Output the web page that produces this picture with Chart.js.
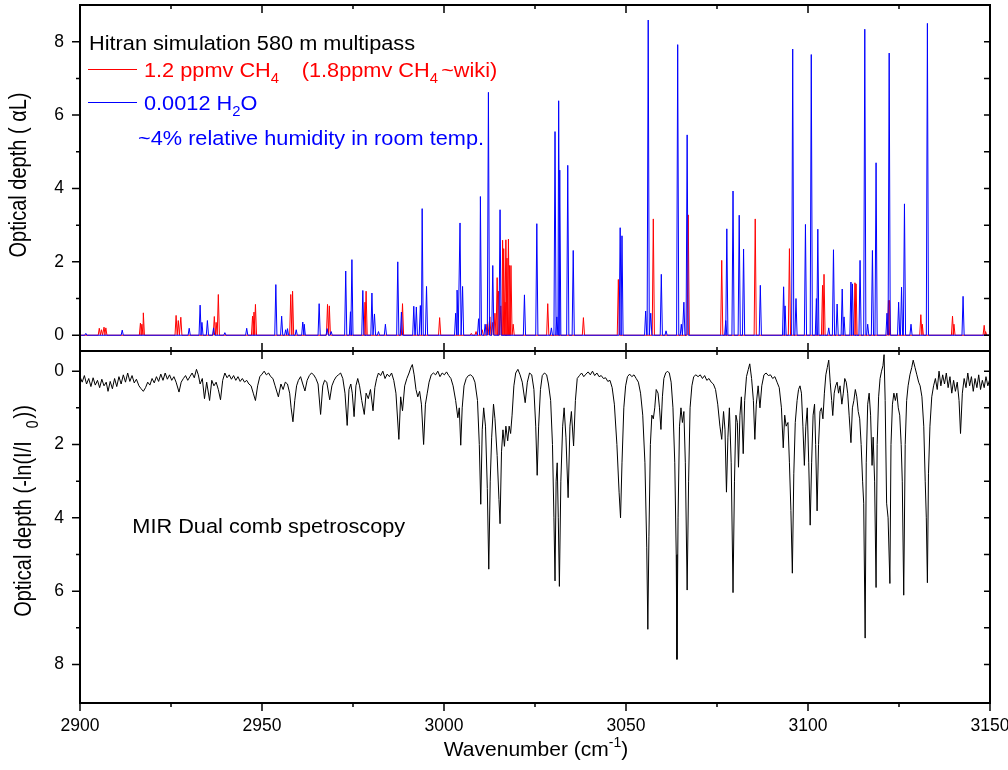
<!DOCTYPE html>
<html>
<head>
<meta charset="utf-8">
<script src="https://cdn.jsdelivr.net/npm/chart.js@4.4.1/dist/chart.umd.min.js"></script>
<style>
  html, body { margin: 0; padding: 0; background: #fff; overflow: hidden; }
  #wrap { position: relative; width: 1008px; height: 770px; overflow: hidden; background: #fff; }
  #topCanvas { position: absolute; left: 0; top: -20px; }
  #botCanvas { position: absolute; left: 0; top: 331px; }
</style>
</head>
<body>
<div id="wrap">
  <canvas id="topCanvas" width="1040" height="391"></canvas>
  <canvas id="botCanvas" width="1040" height="439"></canvas>
</div>
<script>
// axis ticks
const xTickValues = [2900, 2950, 3000, 3050, 3100, 3150];
const yTickValues = [0, 2, 4, 6, 8];

// HITRAN simulated lines, [wavenumber, optical depth]
const h2oLines = [
  [2901.6, 0.05], [2911.6, 0.14], [2930.0, 0.19], [2933.0, 0.82], [2933.5, 0.35],
  [2935.0, 0.40], [2936.7, 0.20], [2939.8, 0.07], [2945.8, 0.19], [2953.8, 1.38],
  [2955.4, 0.52], [2956.5, 0.15], [2957.0, 0.18], [2959.4, 0.15], [2961.2, 0.36],
  [2961.6, 0.30], [2965.7, 0.86], [2967.9, 0.18], [2969.0, 0.10], [2973.0, 1.75],
  [2974.3, 0.64], [2974.7, 2.06], [2977.7, 1.22], [2980.2, 1.15], [2980.9, 0.58],
  [2982.0, 0.10], [2983.9, 0.30], [2987.3, 2.00], [2988.3, 0.63], [2991.7, 0.79],
  [2992.4, 0.77], [2993.5, 0.81], [2994.0, 3.45], [2995.2, 1.33], [3003.2, 0.60],
  [3003.6, 1.23], [3004.4, 3.06], [3005.1, 1.33], [3009.5, 0.45], [3010.0, 3.78],
  [3011.3, 0.30], [3012.2, 6.62], [3013.4, 1.90], [3015.4, 3.42], [3022.1, 1.10],
  [3025.5, 3.04], [3029.5, 0.20], [3030.5, 5.55], [3031.0, 0.50], [3031.5, 6.39],
  [3031.8, 4.50], [3034.0, 4.63], [3035.5, 2.31], [3048.4, 2.93], [3048.9, 2.71],
  [3055.4, 0.66], [3056.1, 8.59], [3056.8, 0.60], [3059.7, 1.66], [3061.0, 0.12],
  [3064.2, 7.92], [3065.2, 0.30], [3065.9, 0.90], [3066.8, 5.46], [3077.4, 0.40],
  [3077.7, 2.90], [3079.4, 3.93], [3081.1, 3.27], [3082.3, 2.35], [3086.9, 1.36],
  [3093.3, 1.32], [3093.7, 0.80], [3095.8, 7.80], [3096.7, 1.00], [3099.3, 3.02],
  [3100.9, 7.65], [3102.3, 1.00], [3102.7, 2.89], [3105.7, 0.20], [3107.0, 2.33],
  [3108.0, 0.85], [3109.4, 1.26], [3109.9, 0.50], [3111.8, 1.45], [3112.2, 1.40],
  [3114.3, 2.04], [3115.6, 8.34], [3116.4, 0.30], [3117.7, 2.31], [3118.7, 4.70],
  [3121.7, 0.60], [3122.3, 7.69], [3124.9, 0.90], [3125.7, 1.31], [3126.5, 3.58],
  [3128.3, 0.30], [3132.8, 8.50], [3142.6, 1.06]
];

const ch4Lines = [
  [2905.3, 0.19], [2905.9, 0.15], [2906.6, 0.22], [2907.1, 0.20], [2916.6, 0.33],
  [2917.0, 0.30], [2917.4, 0.61], [2926.4, 0.54], [2927.0, 0.40], [2927.7, 0.49],
  [2936.9, 0.51], [2937.4, 0.35], [2938.0, 1.11], [2947.4, 0.52], [2947.8, 0.63],
  [2948.2, 0.84], [2957.9, 1.11], [2958.4, 1.20], [2968.0, 0.84], [2968.5, 0.80],
  [2978.3, 0.90], [2978.6, 1.20], [2988.6, 0.86], [2998.8, 0.48], [3007.5, 0.05],
  [3008.8, 0.10], [3010.5, 0.15], [3011.8, 0.30], [3012.6, 0.50], [3013.4, 0.35],
  [3014.0, 0.60], [3014.6, 1.57], [3015.0, 1.20], [3015.6, 0.80], [3016.1, 2.59],
  [3016.4, 2.36], [3016.8, 0.90], [3017.0, 2.60], [3017.3, 2.10], [3017.7, 2.62],
  [3018.0, 1.90], [3018.4, 1.90], [3019.0, 0.30], [3028.5, 0.86], [3038.3, 0.48],
  [3047.9, 1.52], [3057.5, 3.17], [3067.1, 3.28], [3076.3, 2.04], [3085.5, 3.17],
  [3094.9, 2.36], [3104.0, 1.36], [3104.4, 1.66], [3112.9, 1.43], [3113.2, 1.40],
  [3122.1, 0.95], [3122.4, 0.95], [3131.0, 0.56], [3131.4, 0.30], [3139.7, 0.52],
  [3140.1, 0.30], [3148.4, 0.27], [3148.8, 0.10]
];

const measured = [
  [2900.0, 0.15], [2900.6, 0.30], [2901.2, 0.12], [2901.8, 0.35], [2902.4, 0.20],
  [2903.0, 0.42], [2903.6, 0.18], [2904.2, 0.38], [2904.8, 0.25], [2905.4, 0.45],
  [2906.0, 0.22], [2906.6, 0.40], [2907.2, 0.30], [2907.7, 0.55], [2908.3, 0.28],
  [2908.9, 0.48], [2909.5, 0.20], [2910.1, 0.42], [2910.7, 0.15], [2911.3, 0.35],
  [2911.9, 0.10], [2912.5, 0.30], [2913.1, 0.05], [2913.7, 0.28], [2914.3, 0.12],
  [2914.9, 0.32], [2915.5, 0.22], [2916.2, 0.40], [2916.8, 0.48], [2917.4, 0.55],
  [2918.0, 0.45], [2918.6, 0.30], [2919.2, 0.38], [2919.8, 0.20], [2920.4, 0.32],
  [2921.0, 0.15], [2921.6, 0.28], [2922.2, 0.08], [2922.8, 0.25], [2923.4, 0.05],
  [2924.0, 0.22], [2924.6, 0.10], [2925.2, 0.25], [2925.8, 0.15], [2926.4, 0.30],
  [2927.2, 0.57], [2927.8, 0.30], [2928.4, 0.20], [2929.0, 0.12], [2929.6, 0.25],
  [2930.2, 0.15], [2930.8, 0.05], [2931.4, 0.18], [2932.0, -0.05], [2932.5, 0.10],
  [2933.0, 0.35], [2933.6, 0.20], [2934.2, 0.75], [2934.8, 0.30], [2935.6, 0.80],
  [2936.2, 0.25], [2936.8, 0.40], [2937.4, 0.30], [2938.0, 0.50], [2938.6, 0.78],
  [2939.2, 0.25], [2939.8, 0.05], [2940.4, 0.18], [2941.0, 0.10], [2941.6, 0.22],
  [2942.2, 0.12], [2942.8, 0.25], [2943.4, 0.15], [2944.0, 0.28], [2944.6, 0.20],
  [2945.2, 0.30], [2945.8, 0.25], [2946.4, 0.35], [2947.0, 0.40], [2947.6, 0.60],
  [2948.2, 0.80], [2948.8, 0.40], [2949.4, 0.15], [2950.0, 0.08], [2950.6, 0.00],
  [2951.2, 0.10], [2951.8, 0.05], [2952.4, 0.15], [2953.0, 0.20], [2953.6, 0.40],
  [2954.5, 0.70], [2955.2, 0.35], [2955.8, 0.50], [2956.4, 0.30], [2957.0, 0.35],
  [2957.6, 0.60], [2958.0, 1.00], [2958.5, 1.38], [2959.0, 0.80], [2959.5, 0.40],
  [2960.0, 0.25], [2960.6, 0.15], [2961.2, 0.35], [2961.8, 0.54], [2962.4, 0.25],
  [2963.0, 0.12], [2963.6, 0.05], [2964.2, 0.10], [2964.8, 0.20], [2965.4, 0.35],
  [2966.1, 1.18], [2966.7, 0.40], [2967.2, 0.25], [2967.8, 0.30], [2968.6, 0.78],
  [2969.2, 0.40], [2969.8, 0.25], [2970.4, 0.15], [2971.0, 0.10], [2971.6, 0.05],
  [2972.2, 0.20], [2972.8, 0.60], [2973.4, 1.48], [2973.9, 0.50], [2974.4, 0.35],
  [2974.8, 0.60], [2975.3, 1.24], [2975.8, 0.40], [2976.3, 0.20], [2976.8, 0.40],
  [2977.4, 0.80], [2978.1, 1.18], [2978.6, 0.60], [2979.2, 0.75], [2979.8, 0.50],
  [2980.5, 1.08], [2981.0, 0.45], [2981.5, 0.20], [2982.0, 0.05], [2982.6, 0.12],
  [2983.2, 0.00], [2983.8, 0.20], [2984.4, 0.08], [2985.0, 0.15], [2985.6, 0.05],
  [2986.2, 0.25], [2986.8, 0.60], [2987.6, 1.86], [2988.1, 0.70], [2988.6, 1.08],
  [2989.2, 0.40], [2989.8, 0.20], [2990.4, 0.05], [2990.9, -0.10], [2991.3, -0.18],
  [2991.8, 0.10], [2992.3, 0.50], [2992.8, 0.70], [2993.3, 0.55], [2993.8, 0.90],
  [2994.4, 2.00], [2994.9, 0.90], [2995.4, 0.60], [2995.9, 0.30], [2996.5, 0.10],
  [2997.1, 0.05], [2997.7, 0.10], [2998.3, 0.00], [2998.9, 0.15], [2999.5, 0.05],
  [3000.1, 0.10], [3000.7, 0.02], [3001.3, 0.12], [3001.9, 0.20], [3002.5, 0.40],
  [3003.2, 0.80], [3003.8, 1.27], [3004.2, 1.00], [3004.6, 2.02], [3005.0, 1.00],
  [3005.5, 0.40], [3006.1, 0.20], [3006.7, 0.12], [3007.3, 0.10], [3007.9, 0.15],
  [3008.5, 0.30], [3009.2, 0.80], [3009.7, 2.00], [3010.1, 3.63], [3010.5, 1.60],
  [3010.9, 1.00], [3011.4, 1.50], [3011.9, 3.20], [3012.3, 5.40], [3012.7, 3.00],
  [3013.1, 1.80], [3013.6, 0.90], [3014.0, 1.30], [3014.6, 2.30], [3015.1, 3.50],
  [3015.4, 4.16], [3015.8, 2.20], [3016.2, 1.60], [3016.6, 2.05], [3017.0, 1.50],
  [3017.5, 1.90], [3017.9, 1.50], [3018.3, 1.70], [3018.7, 1.20], [3019.2, 0.40],
  [3019.7, 0.05], [3020.3, -0.05], [3020.9, 0.10], [3021.5, 0.30], [3022.3, 0.86],
  [3022.9, 0.30], [3023.5, 0.05], [3024.1, 0.10], [3024.7, 0.50], [3025.2, 1.50],
  [3025.6, 2.84], [3026.0, 1.50], [3026.5, 0.50], [3027.0, 0.12], [3027.6, 0.05],
  [3028.2, 0.10], [3028.7, 0.35], [3029.3, 0.80], [3029.8, 2.00], [3030.2, 4.00],
  [3030.5, 5.72], [3030.8, 3.00], [3031.1, 2.50], [3031.4, 4.00], [3031.7, 5.87],
  [3032.1, 3.00], [3032.6, 1.50], [3033.0, 1.00], [3033.5, 1.80], [3034.1, 3.45],
  [3034.6, 1.50], [3035.0, 1.10], [3035.6, 2.04], [3036.1, 0.80], [3036.6, 0.20],
  [3037.2, 0.12], [3037.8, 0.05], [3038.4, 0.15], [3039.0, 0.08], [3039.6, 0.02],
  [3040.2, 0.10], [3040.8, 0.00], [3041.4, 0.12], [3042.0, 0.05], [3042.6, 0.15],
  [3043.2, 0.12], [3043.8, 0.20], [3044.4, 0.18], [3045.0, 0.28], [3045.6, 0.25],
  [3046.2, 0.45], [3046.8, 0.90], [3047.5, 2.00], [3048.1, 3.30], [3048.5, 4.00],
  [3048.9, 2.50], [3049.4, 1.00], [3049.9, 0.40], [3050.4, 0.15], [3051.0, 0.08],
  [3051.6, 0.15], [3052.2, 0.10], [3052.8, 0.20], [3053.4, 0.30], [3054.0, 0.60],
  [3054.6, 1.20], [3055.2, 2.50], [3055.7, 4.80], [3056.0, 7.04], [3056.3, 4.50],
  [3056.7, 2.00], [3057.1, 1.20], [3057.5, 1.30], [3057.9, 1.00], [3058.3, 0.50],
  [3058.8, 0.60], [3059.2, 1.00], [3059.6, 1.59], [3060.0, 0.70], [3060.4, 0.20],
  [3060.9, 0.05], [3061.4, 0.00], [3061.9, 0.05], [3062.4, 0.30], [3062.9, 1.00],
  [3063.4, 2.50], [3063.8, 5.00], [3064.0, 7.86], [3064.3, 4.00], [3064.7, 1.50],
  [3065.1, 1.00], [3065.5, 1.40], [3065.9, 1.10], [3066.3, 2.50], [3066.8, 5.97],
  [3067.2, 3.00], [3067.6, 1.00], [3068.1, 0.40], [3068.6, 0.15], [3069.2, 0.10],
  [3069.8, 0.15], [3070.4, 0.10], [3071.0, 0.20], [3071.6, 0.12], [3072.2, 0.25],
  [3072.8, 0.20], [3073.4, 0.30], [3074.0, 0.35], [3074.6, 0.50], [3075.2, 0.90],
  [3075.8, 1.50], [3076.3, 1.86], [3076.8, 1.10], [3077.2, 1.60], [3077.6, 3.30],
  [3078.0, 1.80], [3078.4, 1.00], [3078.9, 2.50], [3079.4, 6.04], [3079.8, 3.00],
  [3080.2, 1.20], [3080.6, 1.40], [3080.9, 2.62], [3081.3, 1.20], [3081.7, 0.70],
  [3082.2, 2.25], [3082.6, 0.80], [3083.1, 0.15], [3083.6, -0.05], [3084.0, -0.20],
  [3084.5, 0.20], [3085.0, 0.80], [3085.4, 1.86], [3085.8, 0.90], [3086.3, 0.40],
  [3086.8, 1.00], [3087.3, 0.40], [3087.9, 0.10], [3088.5, 0.05], [3089.1, 0.12],
  [3089.7, 0.10], [3090.3, 0.20], [3090.9, 0.15], [3091.5, 0.30], [3092.1, 0.45],
  [3092.7, 1.00], [3093.2, 2.09], [3093.6, 1.20], [3094.0, 1.50], [3094.5, 1.40],
  [3094.9, 2.50], [3095.3, 3.80], [3095.7, 5.51], [3096.1, 2.80], [3096.5, 1.40],
  [3097.0, 0.80], [3097.4, 0.50], [3097.8, 0.40], [3098.2, 0.60], [3098.6, 1.50],
  [3099.0, 2.57], [3099.4, 1.50], [3099.8, 1.00], [3100.2, 2.50], [3100.6, 4.20],
  [3101.0, 2.50], [3101.4, 1.20], [3101.8, 0.90], [3102.1, 2.00], [3102.5, 3.81],
  [3102.9, 2.00], [3103.3, 1.10], [3103.7, 1.00], [3104.1, 1.30], [3104.5, 0.60],
  [3104.9, 0.10], [3105.3, -0.10], [3105.7, -0.30], [3106.1, 0.30], [3106.5, 0.80],
  [3106.8, 1.21], [3107.2, 0.60], [3107.6, 0.40], [3108.0, 0.30], [3108.4, 0.60],
  [3108.8, 0.40], [3109.3, 0.90], [3109.7, 0.60], [3110.1, 0.20], [3110.5, 0.30],
  [3110.9, 0.60], [3111.3, 1.20], [3111.8, 1.95], [3112.2, 1.00], [3112.6, 0.80],
  [3113.0, 0.50], [3113.4, 0.70], [3113.8, 1.10], [3114.2, 1.30], [3114.6, 2.00],
  [3115.0, 3.00], [3115.3, 3.60], [3115.7, 7.28], [3116.0, 2.50], [3116.4, 0.90],
  [3116.8, 0.60], [3117.2, 1.20], [3117.6, 2.57], [3117.9, 1.80], [3118.3, 3.00],
  [3118.7, 5.90], [3119.0, 2.00], [3119.4, 0.70], [3119.8, 0.20], [3120.2, 0.00],
  [3120.6, -0.15], [3120.9, -0.45], [3121.2, 0.80], [3121.6, 3.60], [3122.0, 4.00],
  [3122.5, 5.79], [3122.8, 2.00], [3123.2, 0.90], [3123.6, 0.60], [3124.0, 0.80],
  [3124.4, 0.60], [3124.8, 1.00], [3125.2, 1.20], [3125.6, 2.00], [3125.9, 3.00],
  [3126.3, 6.11], [3126.7, 2.00], [3127.1, 0.80], [3127.5, 0.40], [3128.0, 0.10],
  [3128.5, -0.10], [3128.9, -0.30], [3129.4, -0.10], [3129.9, 0.10], [3130.4, 0.30],
  [3130.8, 0.40], [3131.3, 0.70], [3131.8, 1.50], [3132.2, 3.00], [3132.5, 4.00],
  [3132.8, 5.77], [3133.1, 2.80], [3133.5, 1.50], [3134.0, 0.70], [3134.5, 0.40],
  [3135.0, 0.20], [3135.5, 0.50], [3136.0, 0.00], [3136.5, 0.40], [3137.0, 0.10],
  [3137.5, 0.35], [3138.0, 0.05], [3138.5, 0.45], [3139.0, 0.15], [3139.5, 0.60],
  [3140.0, 0.25], [3140.5, 0.55], [3141.0, 0.30], [3141.5, 0.80], [3141.9, 1.70],
  [3142.4, 0.60], [3142.9, 0.20], [3143.4, 0.45], [3143.9, 0.05], [3144.4, 0.40],
  [3144.9, 0.15], [3145.4, 0.55], [3145.9, 0.20], [3146.4, 0.45], [3146.9, 0.10],
  [3147.4, 0.50], [3147.9, 0.25], [3148.4, 0.45], [3148.9, 0.15], [3149.4, 0.40],
  [3150.0, 0.20]
];

const FONT = "'Liberation Sans', Arial, Helvetica, sans-serif";
const lineHalfWidth = 0.3; // cm-1, drawn width of a simulated line
const TEXT_STRETCH = 1.06;  // the original figure is a bit wider than tall

// turn a list of lines into a spiky trace on a zero baseline
function lineTrace(lines) {
    const pts = [{ x: 2900, y: 0 }];
    lines.forEach(([nu, h]) => {
        pts.push({ x: nu - lineHalfWidth, y: 0 }, { x: nu, y: h }, { x: nu + lineHalfWidth, y: 0 });
    });
    pts.push({ x: 3150, y: 0 });
    return pts;
}

// draw text made of pieces (sub/superscripts) in local coords
function drawParts(ctx, parts, x, y, base) {
    parts.forEach(p => {
        ctx.font = `${p.size || base}px ${FONT}`;
        x += p.dx || 0;
        ctx.fillText(p.t, x, y + (p.dy || 0));
        x += ctx.measureText(p.t).width;
    });
    return x;
}

function partsWidth(ctx, parts, base) {
    let w = 0;
    parts.forEach(p => {
        ctx.font = `${p.size || base}px ${FONT}`;
        w += (p.dx || 0) + ctx.measureText(p.t).width;
    });
    return w;
}

// horizontal annotation, slightly widened like the original
function richText(ctx, parts, x, y, base = 20.5, stretch = TEXT_STRETCH) {
    ctx.save();
    ctx.translate(x, y);
    ctx.scale(stretch, 1);
    drawParts(ctx, parts, 0, 0, base);
    ctx.restore();
}

function rotatedTitle(ctx, parts, bx, cy) {
    ctx.save();
    ctx.translate(bx, cy);
    ctx.rotate(-Math.PI / 2);
    ctx.scale(1, 1.15);
    const w = partsWidth(ctx, parts, 20);
    drawParts(ctx, parts, -w / 2, 0, 20);
    ctx.restore();
}

// box round the plot area with Origin style tick marks
const axisFrame = {
    id: 'axisFrame',
    afterDatasetsDraw(chart, args, o) {
        const { ctx, chartArea: a } = chart;
        const xs = chart.scales.x, ys = chart.scales.y;
        ctx.save();
        ctx.strokeStyle = '#000';
        ctx.lineWidth = 2;
        ctx.strokeRect(a.left, a.top, a.right - a.left, a.bottom - a.top);
        ctx.lineWidth = 1.5;
        ctx.beginPath();
        for (let v = 2900; v <= 3150; v += 25) {
            const px = xs.getPixelForValue(v);
            const len = v % 50 === 0 ? 8 : 4;
            if (o.top === 'in') { ctx.moveTo(px, a.top); ctx.lineTo(px, a.top + len); }
            if (o.bottom === 'both') { ctx.moveTo(px, a.bottom - len); ctx.lineTo(px, a.bottom + len); }
            if (o.bottom === 'out') { ctx.moveTo(px, a.bottom); ctx.lineTo(px, a.bottom + len); }
        }
        for (let v = 0; v <= 8; v += 1) {
            const py = ys.getPixelForValue(v);
            const len = v % 2 === 0 ? 8 : 4;
            ctx.moveTo(a.left - len, py); ctx.lineTo(a.left, py);
            ctx.moveTo(a.right - 6, py); ctx.lineTo(a.right, py);
        }
        ctx.stroke();
        ctx.restore();
    }
};

const notes = {
    id: 'notes',
    afterDraw(chart, args, o) {
        const ctx = chart.ctx;
        ctx.save();
        ctx.translate(0, -o.pageTop);
        ctx.textBaseline = 'alphabetic';
        ctx.textAlign = 'left';
        o.draw(ctx);
        ctx.restore();
    }
};

function yAxis(min, max, reverse) {
    return {
        min: min, max: max, reverse: reverse,
        afterFit: s => { s.width = 80; },
        afterBuildTicks: s => { s.ticks = yTickValues.map(v => ({ value: v })); },
        grid: { display: false },
        border: { display: false },
        ticks: { color: '#000', padding: 8, font: { family: FONT, size: 17.5 }, callback: v => String(v) }
    };
}

// top panel: HITRAN simulation
new Chart(document.getElementById('topCanvas'), {
    type: 'line',
    data: {
        datasets: [
            { label: '0.0012 H2O', data: lineTrace(h2oLines), borderColor: '#0000ff', borderWidth: 1, pointRadius: 0, tension: 0 },
            { label: '1.2 ppmv CH4', data: lineTrace(ch4Lines), borderColor: '#ff0000', borderWidth: 1, pointRadius: 0, tension: 0 }
        ]
    },
    options: {
        responsive: false,
        animation: false,
        layout: { padding: { left: 0, right: 50, top: 25, bottom: 20 } },
        plugins: {
            legend: { display: false },
            tooltip: { enabled: false },
            axisFrame: { top: 'in', bottom: 'both' },
            notes: {
                pageTop: -20,
                draw: ctx => {
                    ctx.fillStyle = '#000';
                    richText(ctx, [{ t: 'Hitran simulation 580 m multipass' }], 89, 49.5);
                    ctx.lineWidth = 1;
                    ctx.strokeStyle = '#ff0000';
                    ctx.beginPath(); ctx.moveTo(88, 69.5); ctx.lineTo(137, 69.5); ctx.stroke();
                    ctx.fillStyle = '#ff0000';
                    richText(ctx, [{ t: '1.2 ppmv CH' }, { t: '4', size: 14, dy: 6 }], 144, 77);
                    richText(ctx, [{ t: '(1.8ppmv CH' }, { t: '4', size: 14, dy: 6 }, { t: '~wiki)', dx: 3 }], 301.7, 77);
                    ctx.strokeStyle = '#0000ff';
                    ctx.beginPath(); ctx.moveTo(88, 102.5); ctx.lineTo(137, 102.5); ctx.stroke();
                    ctx.fillStyle = '#0000ff';
                    richText(ctx, [{ t: '0.0012 H' }, { t: '2', size: 14, dy: 6 }, { t: 'O' }], 144, 110);
                    richText(ctx, [{ t: '~4% relative humidity in room temp.' }], 138, 145);
                    ctx.fillStyle = '#000';
                    rotatedTitle(ctx, [{ t: 'Optical depth ( \u03B1L)' }], 26, 175);
                }
            }
        },
        scales: {
            x: { type: 'linear', min: 2900, max: 3150, display: false },
            y: yAxis(-0.43, 9.0, false)
        }
    },
    plugins: [axisFrame, notes]
});

// bottom panel: dual comb measurement, depth axis pointing down
new Chart(document.getElementById('botCanvas'), {
    type: 'line',
    data: {
        datasets: [
            { label: 'MIR Dual comb', data: measured.map(([x, y]) => ({ x: x, y: y })), borderColor: '#000', borderWidth: 1, pointRadius: 0, tension: 0 }
        ]
    },
    options: {
        responsive: false,
        animation: false,
        layout: { padding: { left: 0, right: 50, top: 20, bottom: 0 } },
        plugins: {
            legend: { display: false },
            tooltip: { enabled: false },
            axisFrame: { top: 'none', bottom: 'out' },
            notes: {
                pageTop: 331,
                draw: ctx => {
                    ctx.fillStyle = '#000';
                    richText(ctx, [{ t: 'MIR Dual comb spetroscopy' }], 132.3, 533);
                    rotatedTitle(ctx, [{ t: 'Optical depth (-ln(I/I' }, { t: '0', size: 14, dy: 6, dx: 13 }, { t: '))', dx: 2 }], 31, 511);
                    const xt = [{ t: 'Wavenumber (cm' }, { t: '-1', size: 14, dy: -9 }, { t: ')' }];
                    ctx.font = `21px ${FONT}`;
                    richText(ctx, xt, 536 - partsWidth(ctx, xt, 21) / 2, 756, 21, 1);
                }
            }
        },
        scales: {
            x: {
                type: 'linear', min: 2900, max: 3150,
                afterFit: s => { s.height = 67; },
                afterBuildTicks: s => { s.ticks = xTickValues.map(v => ({ value: v })); },
                grid: { display: false },
                border: { display: false },
                ticks: { color: '#000', padding: 5, maxRotation: 0, autoSkip: false, font: { family: FONT, size: 17.5 }, callback: v => String(v) }
            },
            y: yAxis(-0.55, 9.05, true)
        }
    },
    plugins: [axisFrame, notes]
});
</script>
</body>
</html>
